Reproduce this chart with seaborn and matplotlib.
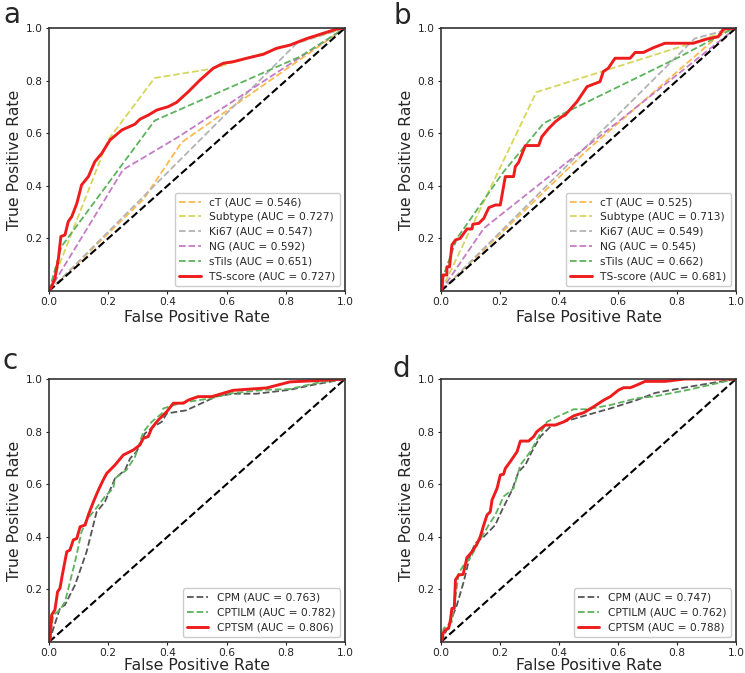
import matplotlib
matplotlib.use('Agg')
import matplotlib.pyplot as plt
import seaborn as sns

# ---------------- data ----------------
# Panel a
a_ct_fpr = [0.0, 0.32, 0.448, 1.0]
a_ct_tpr = [0.0, 0.35, 0.565, 1.0]
a_sub_fpr = [0.0, 0.2, 0.357, 0.55, 0.77, 1.0]
a_sub_tpr = [0.0, 0.575, 0.81, 0.845, 0.92, 1.0]
a_ki_fpr = [0.0, 0.837, 1.0]
a_ki_tpr = [0.0, 0.942, 1.0]
a_ng_fpr = [0.0, 0.25, 0.44, 1.0]
a_ng_tpr = [0.0, 0.461, 0.588, 1.0]
a_stil_fpr = [0.0, 0.042, 0.357, 0.848, 1.0]
a_stil_tpr = [0.0, 0.169, 0.648, 0.891, 1.0]
a_ts_fpr = [0, 0.003, 0.02, 0.032, 0.04, 0.054, 0.065, 0.077, 0.094, 0.11, 0.133, 0.155,
            0.178, 0.206, 0.246, 0.29, 0.307, 0.336, 0.364, 0.403, 0.431, 0.471, 0.51,
            0.555, 0.589, 0.623, 0.668, 0.724, 0.769, 0.814, 0.871, 0.927, 0.972, 0.994, 1.0]
a_ts_tpr = [0, 0.0, 0.048, 0.124, 0.207, 0.213, 0.264, 0.283, 0.333, 0.403, 0.435, 0.492,
            0.523, 0.574, 0.612, 0.634, 0.653, 0.669, 0.688, 0.701, 0.717, 0.758, 0.802,
            0.847, 0.866, 0.872, 0.885, 0.9, 0.923, 0.935, 0.96, 0.98, 0.996, 1.0, 1.0]
a_auc = [0.546, 0.727, 0.547, 0.592, 0.651, 0.727]

# Panel b
b_ct_fpr = [0.0, 0.5, 0.95, 1.0]
b_ct_tpr = [0.0, 0.54, 0.98, 1.0]
b_sub_fpr = [0.0, 0.323, 0.844, 1.0]
b_sub_tpr = [0.0, 0.756, 0.94, 1.0]
b_ki_fpr = [0.0, 0.86, 0.96, 1.0]
b_ki_tpr = [0.0, 0.96, 0.99, 1.0]
b_ng_fpr = [0.0, 0.145, 1.0]
b_ng_tpr = [0.0, 0.238, 1.0]
b_stil_fpr = [0.0, 0.009, 0.054, 0.21, 0.348, 0.81, 0.98, 1.0]
b_stil_tpr = [0.0, 0.061, 0.2, 0.45, 0.638, 0.891, 0.992, 1.0]
b_ts_fpr = [0, 0.003, 0.007, 0.02, 0.02, 0.029, 0.037, 0.049, 0.065, 0.088, 0.105, 0.108,
            0.128, 0.145, 0.162, 0.184, 0.201, 0.218, 0.246, 0.252, 0.263, 0.286, 0.331,
            0.342, 0.365, 0.388, 0.41, 0.421, 0.461, 0.495, 0.539, 0.55, 0.567, 0.59,
            0.641, 0.658, 0.686, 0.72, 0.759, 0.855, 0.901, 0.94, 0.957, 1.0]
b_ts_tpr = [0, 0.0, 0.061, 0.061, 0.092, 0.092, 0.175, 0.194, 0.2, 0.236, 0.236, 0.254,
            0.257, 0.276, 0.317, 0.327, 0.327, 0.435, 0.435, 0.473, 0.489, 0.553, 0.553,
            0.587, 0.618, 0.644, 0.663, 0.669, 0.72, 0.777, 0.796, 0.834, 0.847, 0.885,
            0.885, 0.907, 0.907, 0.925, 0.942, 0.942, 0.958, 0.967, 0.996, 1.0]
b_auc = [0.525, 0.713, 0.549, 0.545, 0.662, 0.681]

# Panel c
c_cpm_fpr = [0, 0.037, 0.054, 0.088, 0.127, 0.161, 0.189, 0.223, 0.257, 0.274, 0.296, 0.324,
             0.352, 0.381, 0.398, 0.464, 0.566, 0.622, 0.701, 0.814, 0.893, 1.0]
c_cpm_tpr = [0, 0.128, 0.141, 0.217, 0.343, 0.495, 0.533, 0.622, 0.654, 0.698, 0.724, 0.793,
             0.818, 0.837, 0.869, 0.881, 0.934, 0.944, 0.944, 0.959, 0.978, 1.0]
c_til_fpr = [0, 0.015, 0.037, 0.054, 0.088, 0.11, 0.127, 0.155, 0.189, 0.217, 0.223, 0.262,
             0.291, 0.319, 0.347, 0.381, 0.386, 0.42, 0.45, 0.55, 0.617, 0.735, 0.814,
             0.904, 1.0]
c_til_tpr = [0, 0.103, 0.122, 0.153, 0.305, 0.419, 0.464, 0.502, 0.553, 0.584, 0.622, 0.654,
             0.705, 0.8, 0.837, 0.869, 0.888, 0.9, 0.91, 0.927, 0.946, 0.959, 0.962,
             0.985, 1.0]
c_ts_fpr = [0, 0.003, 0.009, 0.02, 0.029, 0.037, 0.045, 0.06, 0.071, 0.082, 0.094, 0.105,
            0.122, 0.133, 0.15, 0.167, 0.183, 0.195, 0.223, 0.251, 0.285, 0.307, 0.319,
            0.335, 0.347, 0.369, 0.398, 0.42, 0.454, 0.471, 0.504, 0.55, 0.622, 0.735,
            0.814, 0.904, 1.0]
c_ts_tpr = [0, 0.001, 0.103, 0.122, 0.191, 0.204, 0.255, 0.343, 0.35, 0.388, 0.394, 0.438,
            0.445, 0.483, 0.533, 0.578, 0.616, 0.641, 0.673, 0.711, 0.73, 0.749, 0.775,
            0.781, 0.813, 0.844, 0.876, 0.908, 0.908, 0.92, 0.933, 0.933, 0.957, 0.966,
            0.989, 0.994, 1.0]
c_auc = [0.763, 0.782, 0.806]

# Panel d
d_cpm_fpr = [0, 0.032, 0.054, 0.077, 0.099, 0.116, 0.145, 0.184, 0.207, 0.241, 0.263, 0.286,
             0.308, 0.337, 0.371, 0.416, 0.495, 0.574, 0.664, 0.726, 0.839, 1.0]
d_cpm_tpr = [0, 0.077, 0.141, 0.229, 0.331, 0.375, 0.4, 0.445, 0.502, 0.578, 0.648, 0.673,
             0.724, 0.781, 0.819, 0.837, 0.863, 0.888, 0.92, 0.947, 0.97, 1.0]
d_til_fpr = [0, 0.003, 0.009, 0.037, 0.06, 0.077, 0.099, 0.128, 0.162, 0.184, 0.212, 0.246,
             0.269, 0.303, 0.337, 0.359, 0.393, 0.45, 0.495, 0.574, 0.664, 0.726, 0.839, 1.0]
d_til_tpr = [0, 0.014, 0.052, 0.077, 0.261, 0.293, 0.318, 0.381, 0.445, 0.483, 0.553, 0.584,
             0.673, 0.724, 0.793, 0.837, 0.856, 0.885, 0.885, 0.901, 0.927, 0.934, 0.959, 1.0]
d_ts_fpr = [0, 0.003, 0.007, 0.015, 0.026, 0.032, 0.037, 0.045, 0.049, 0.06, 0.075, 0.088,
            0.105, 0.12, 0.133, 0.145, 0.156, 0.167, 0.173, 0.19, 0.201, 0.212, 0.218,
            0.235, 0.258, 0.269, 0.297, 0.314, 0.325, 0.354, 0.388, 0.416, 0.45, 0.484,
            0.518, 0.552, 0.574, 0.602, 0.619, 0.642, 0.664, 0.692, 0.76, 0.827, 1.0]
d_ts_tpr = [0, 0.001, 0.033, 0.046, 0.052, 0.084, 0.128, 0.128, 0.236, 0.255, 0.257, 0.321,
            0.343, 0.369, 0.4, 0.445, 0.483, 0.495, 0.54, 0.584, 0.635, 0.638, 0.66,
            0.686, 0.724, 0.764, 0.764, 0.781, 0.8, 0.825, 0.825, 0.837, 0.86, 0.872,
            0.895, 0.92, 0.933, 0.958, 0.967, 0.967, 0.977, 0.991, 0.991, 1.0, 1.0]
d_auc = [0.747, 0.762, 0.788]

names_ab = ['cT', 'Subtype', 'Ki67', 'NG', 'sTils', 'TS-score']
names_cd = ['CPM', 'CPTILM', 'CPTSM']
diag = [0.0, 1.0]
x_ticks = [0.0, 0.2, 0.4, 0.6, 0.8, 1.0]
y_ticks = [0.2, 0.4, 0.6, 0.8, 1.0]

# ---------------- style ----------------
sns.set_style('white')
plt.rcParams['font.family'] = ['DejaVu Sans']

col_ab = ['#FDBA4E', '#D6D65C', '#B3B3B3', '#C47CC4', '#5DB35D', '#EE1C1C']
col_cd = ['#555555', '#5DB35D', '#EE1C1C']

fig = plt.figure(figsize=(7.45, 6.73), dpi=100)
W, H = 745.0, 673.0
boxes = {
    'a': (49, 28, 345, 291),
    'b': (441, 28, 736, 291),
    'c': (49, 379, 345, 642),
    'd': (441, 379, 736, 642),
}
letter_pos = {'a': (3, 23), 'b': (394, 24), 'c': (3, 369), 'd': (392, 377)}

panels = {
    'a': (names_ab, a_auc, [(a_ct_fpr, a_ct_tpr), (a_sub_fpr, a_sub_tpr), (a_ki_fpr, a_ki_tpr),
                            (a_ng_fpr, a_ng_tpr), (a_stil_fpr, a_stil_tpr), (a_ts_fpr, a_ts_tpr)], col_ab),
    'b': (names_ab, b_auc, [(b_ct_fpr, b_ct_tpr), (b_sub_fpr, b_sub_tpr), (b_ki_fpr, b_ki_tpr),
                            (b_ng_fpr, b_ng_tpr), (b_stil_fpr, b_stil_tpr), (b_ts_fpr, b_ts_tpr)], col_ab),
    'c': (names_cd, c_auc, [(c_cpm_fpr, c_cpm_tpr), (c_til_fpr, c_til_tpr), (c_ts_fpr, c_ts_tpr)], col_cd),
    'd': (names_cd, d_auc, [(d_cpm_fpr, d_cpm_tpr), (d_til_fpr, d_til_tpr), (d_ts_fpr, d_ts_tpr)], col_cd),
}

for key, (names, aucs, curves, cols) in panels.items():
    x0, y0, x1, y1 = boxes[key]
    ax = fig.add_axes([x0 / W, 1 - y1 / H, (x1 - x0) / W, (y1 - y0) / H])
    n = len(names)
    # dashed curves
    for i in range(n - 1):
        fpr, tpr = curves[i]
        sns.lineplot(x=fpr, y=tpr, ax=ax, sort=False, estimator=None, color=cols[i],
                     linestyle='--', linewidth=1.3,
                     label=f'{names[i]} (AUC = {aucs[i]:.3f})')
    # chance diagonal
    sns.lineplot(x=diag, y=diag, ax=ax, sort=False, estimator=None, color='black',
                 linestyle='--', linewidth=1.5)
    fpr, tpr = curves[-1]
    sns.lineplot(x=fpr, y=tpr, ax=ax, sort=False, estimator=None, color=cols[-1],
                 linewidth=2.1, label=f'{names[-1]} (AUC = {aucs[-1]:.3f})')
    ax.set_xlim(0, 1)
    ax.set_ylim(0, 1)
    ax.set_xticks(x_ticks)
    ax.set_yticks(y_ticks)
    ax.tick_params(labelsize=7.7, length=2.5, width=0.8, direction='out', pad=2,
                   bottom=True, left=True, colors='#222222')
    for sp in ax.spines.values():
        sp.set_color('#333333')
        sp.set_linewidth(1.2)
    bottom_row = key in ('c', 'd')
    ax.set_xlabel('False Positive Rate', fontsize=11.3, labelpad=-0.5 if bottom_row else 2)
    ax.set_ylabel('True Positive Rate', fontsize=11.3, labelpad=3)
    ax.legend(loc='lower right', fontsize=7.7, frameon=True, fancybox=True,
              edgecolor='#cccccc', framealpha=1.0, labelspacing=0.45)
    lx, ly = letter_pos[key]
    fig.text(lx / W, 1 - ly / H, key, fontsize=20, ha='left', va='baseline')

fig.savefig('out.png', dpi=100)
